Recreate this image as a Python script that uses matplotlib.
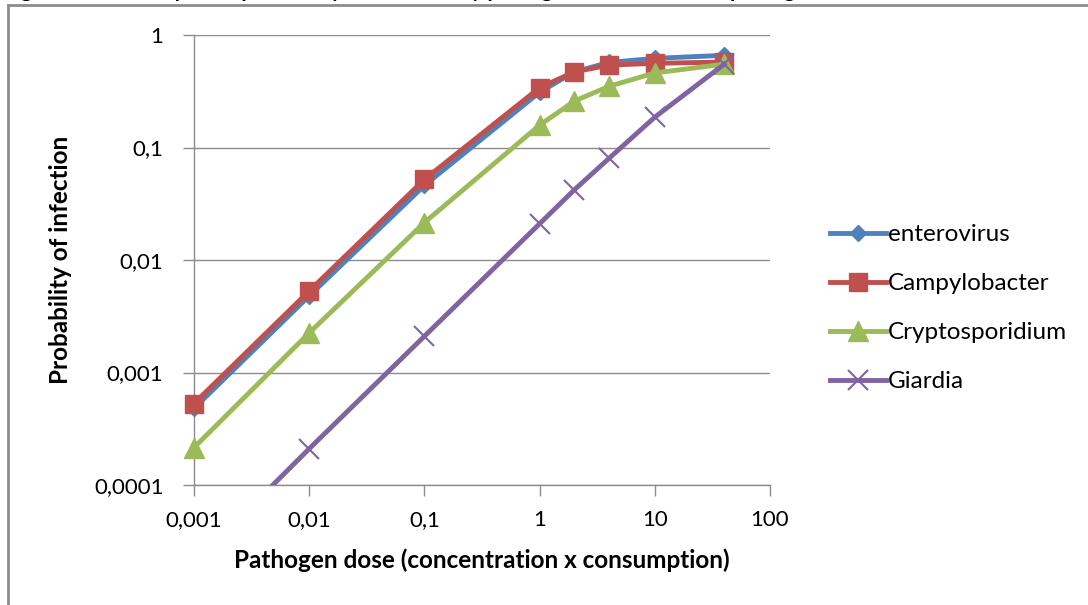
import matplotlib.pyplot as plt
from matplotlib.lines import Line2D

plt.rcParams['font.family'] = ['Lato', 'DejaVu Sans']

# dose (concentration x consumption)
dose = [0.001, 0.01, 0.1, 1, 2, 4, 10, 40]

enterovirus = [0.00048, 0.0048, 0.046, 0.31, 0.47, 0.57, 0.62, 0.66]
campylobacter = [0.00053, 0.0053, 0.052, 0.34, 0.47, 0.54, 0.56, 0.575]
cryptosporidium = [0.000215, 0.00225, 0.0215, 0.158, 0.258, 0.35, 0.46, 0.55]
giardia = [0.00002, 0.00021, 0.0021, 0.021, 0.042, 0.08, 0.186, 0.55]

xticks = [0.001, 0.01, 0.1, 1, 10, 100]
xtick_labels = ['0,001', '0,01', '0,1', '1', '10', '100']
yticks = [0.0001, 0.001, 0.01, 0.1, 1]
ytick_labels = ['0,0001', '0,001', '0,01', '0,1', '1']

fig = plt.figure(figsize=(10.88, 6.05), dpi=100)
ax = fig.add_axes([194 / 1088, 1 - 485 / 605, 576 / 1088, 450 / 605])

ax.plot(dose, enterovirus, color='#4F81BD', lw=3.5, marker='D', ms=8,
        label='enterovirus', clip_on=False, zorder=3)
ax.plot(dose, campylobacter, color='#C0504D', lw=3.5, marker='s', ms=13,
        label='Campylobacter', clip_on=False, zorder=3)
ax.plot(dose, cryptosporidium, color='#9BBB59', lw=3.5, marker='^', ms=15,
        label='Cryptosporidium', clip_on=False, zorder=3)
ax.plot(dose, giardia, color='#8064A2', lw=3.5, marker='x', ms=14, mew=1.5,
        label='Giardia', zorder=3)

ax.set_xscale('log')
ax.set_yscale('log')
ax.set_xlim(0.001, 100)
ax.set_ylim(0.0001, 1)
ax.set_xticks(xticks)
ax.set_xticklabels(xtick_labels)
ax.set_yticks(yticks)
ax.set_yticklabels(ytick_labels)
ax.minorticks_off()

ax.grid(axis='y', color='#8c8c8c', lw=1)
ax.set_axisbelow(True)
for s in ['top', 'right']:
    ax.spines[s].set_visible(False)
for s in ['left', 'bottom']:
    ax.spines[s].set_color('#8c8c8c')
    ax.spines[s].set_linewidth(1)
ax.tick_params(axis='both', length=8, width=1, color='#8c8c8c',
               labelsize=16, labelcolor='black')
ax.tick_params(axis='x', pad=10)
ax.tick_params(axis='y', pad=14)

ax.set_xlabel('Pathogen dose (concentration x consumption)', fontsize=17.5,
              fontweight='bold', labelpad=13)
ax.set_ylabel('Probability of infection', fontsize=17.5, fontweight='bold',
              labelpad=16)

ax.legend(loc='center left', bbox_to_anchor=(1.104, 0.393), frameon=False,
          fontsize=17.5, handlelength=2.3, handletextpad=0.1,
          labelspacing=1.15, borderaxespad=0, borderpad=0)

# outer frame and caption line (runs off the top edge)
fig.add_artist(Line2D([8 / 1088, 8 / 1088], [0, 1 - 5 / 605],
                      color='#8c8c8c', lw=2))
fig.add_artist(Line2D([8 / 1088, 1], [1 - 5 / 605, 1 - 5 / 605],
                      color='#8c8c8c', lw=2))
fig.text(4 / 1088, 1 + 2.7 / 605,
         'Figure 5  Dose-response: probability of infection by pathogen '
         'dose, reference pathogens',
         fontsize=15, fontweight='bold', va='baseline')

fig.savefig('out.png', dpi=100)
